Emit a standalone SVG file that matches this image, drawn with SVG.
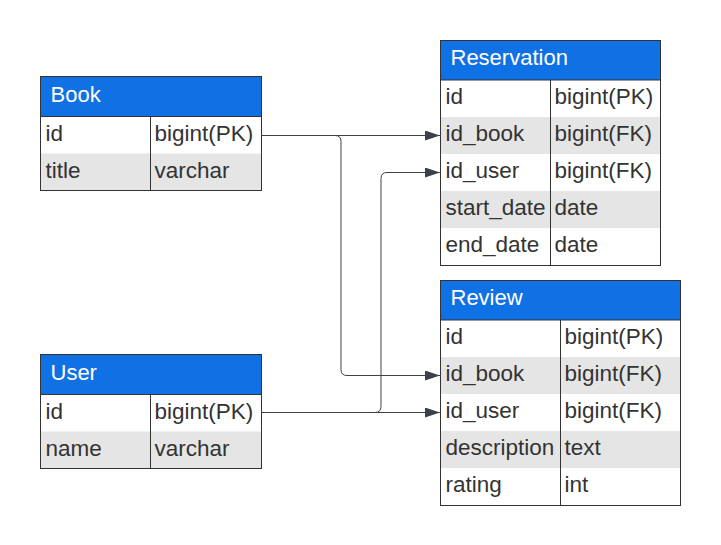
<svg xmlns="http://www.w3.org/2000/svg" width="721" height="545" viewBox="0 0 721 545">
<defs>
<style>
.hd{fill:#1071e5;stroke:#333;stroke-width:1}
.rw{fill:#fff}
.ra{fill:#e5e5e5}
.bd{fill:none;stroke:#333;stroke-width:1}
.ht{font-family:"Liberation Sans",Arial,sans-serif;font-size:22px;fill:#fff}
.tx{font-family:"Liberation Sans",Arial,sans-serif;font-size:22.5px;fill:#333}
.ln{fill:none;stroke:#3a414a;stroke-width:1}
</style>
<marker id="arr" markerWidth="15" markerHeight="10" refX="15" refY="5" orient="auto" markerUnits="userSpaceOnUse">
<path d="M0,0 L15,5 L0,10 Z" fill="#3a414a"/>
</marker>
</defs>
<rect width="721" height="545" fill="#fff"/>

<g id="book">
<rect class="rw" x="40.5" y="116.5" width="221" height="37"/>
<rect class="ra" x="40.5" y="153.5" width="221" height="37"/>
<rect class="hd" x="40.5" y="76.5" width="221" height="40"/>
<rect class="bd" x="40.5" y="76.5" width="221" height="114"/>
<line class="bd" x1="150.5" y1="116.5" x2="150.5" y2="190.5"/>
<text class="ht" x="50.5" y="101.5">Book</text>
<text class="tx" x="45.5" y="140.5">id</text>
<text class="tx" x="154.5" y="140.5">bigint(PK)</text>
<text class="tx" x="45.5" y="177.5">title</text>
<text class="tx" x="154.5" y="177.5">varchar</text>
</g>

<g id="user">
<rect class="rw" x="40.5" y="394.5" width="221" height="37"/>
<rect class="ra" x="40.5" y="431.5" width="221" height="37"/>
<rect class="hd" x="40.5" y="354.5" width="221" height="40"/>
<rect class="bd" x="40.5" y="354.5" width="221" height="114"/>
<line class="bd" x1="150.5" y1="394.5" x2="150.5" y2="468.5"/>
<text class="ht" x="50.5" y="379.5">User</text>
<text class="tx" x="45.5" y="418.5">id</text>
<text class="tx" x="154.5" y="418.5">bigint(PK)</text>
<text class="tx" x="45.5" y="455.5">name</text>
<text class="tx" x="154.5" y="455.5">varchar</text>
</g>

<g id="reservation">
<rect class="rw" x="440.5" y="80" width="220" height="37"/>
<rect class="ra" x="440.5" y="117" width="220" height="37"/>
<rect class="rw" x="440.5" y="154" width="220" height="37"/>
<rect class="ra" x="440.5" y="191" width="220" height="37"/>
<rect class="rw" x="440.5" y="228" width="220" height="37.5"/>
<rect class="hd" x="440.5" y="40.5" width="220" height="39.5"/>
<rect class="bd" x="440.5" y="40.5" width="220" height="225"/>
<line class="bd" x1="550.5" y1="80" x2="550.5" y2="265.5"/>
<text class="ht" x="450.5" y="65">Reservation</text>
<text class="tx" x="445.5" y="104">id</text>
<text class="tx" x="554.5" y="104">bigint(PK)</text>
<text class="tx" x="445.5" y="141">id_book</text>
<text class="tx" x="554.5" y="141">bigint(FK)</text>
<text class="tx" x="445.5" y="178">id_user</text>
<text class="tx" x="554.5" y="178">bigint(FK)</text>
<text class="tx" x="445.5" y="215">start_date</text>
<text class="tx" x="554.5" y="215">date</text>
<text class="tx" x="445.5" y="252">end_date</text>
<text class="tx" x="554.5" y="252">date</text>
</g>

<g id="review">
<rect class="rw" x="440.5" y="320" width="240" height="37"/>
<rect class="ra" x="440.5" y="357" width="240" height="37"/>
<rect class="rw" x="440.5" y="394" width="240" height="37"/>
<rect class="ra" x="440.5" y="431" width="240" height="37"/>
<rect class="rw" x="440.5" y="468" width="240" height="37.5"/>
<rect class="hd" x="440.5" y="280.5" width="240" height="39.5"/>
<rect class="bd" x="440.5" y="280.5" width="240" height="225"/>
<line class="bd" x1="560.5" y1="320" x2="560.5" y2="505.5"/>
<text class="ht" x="450.5" y="305">Review</text>
<text class="tx" x="445.5" y="344">id</text>
<text class="tx" x="564.5" y="344">bigint(PK)</text>
<text class="tx" x="445.5" y="381">id_book</text>
<text class="tx" x="564.5" y="381">bigint(FK)</text>
<text class="tx" x="445.5" y="418">id_user</text>
<text class="tx" x="564.5" y="418">bigint(FK)</text>
<text class="tx" x="445.5" y="455">description</text>
<text class="tx" x="564.5" y="455">text</text>
<text class="tx" x="445.5" y="492">rating</text>
<text class="tx" x="564.5" y="492">int</text>
</g>

<g id="connectors">
<path class="ln" d="M261.5,135.5 H440" marker-end="url(#arr)"/>
<path class="ln" d="M261.5,135.5 H335 Q341,135.5 341,141.5 V369.5 Q341,375.5 347,375.5 H440" marker-end="url(#arr)"/>
<path class="ln" d="M261.5,412.5 H440" marker-end="url(#arr)"/>
<path class="ln" d="M261.5,412.5 H375 Q381,412.5 381,406.5 V178.5 Q381,172.5 387,172.5 H440" marker-end="url(#arr)"/>
</g>
</svg>
